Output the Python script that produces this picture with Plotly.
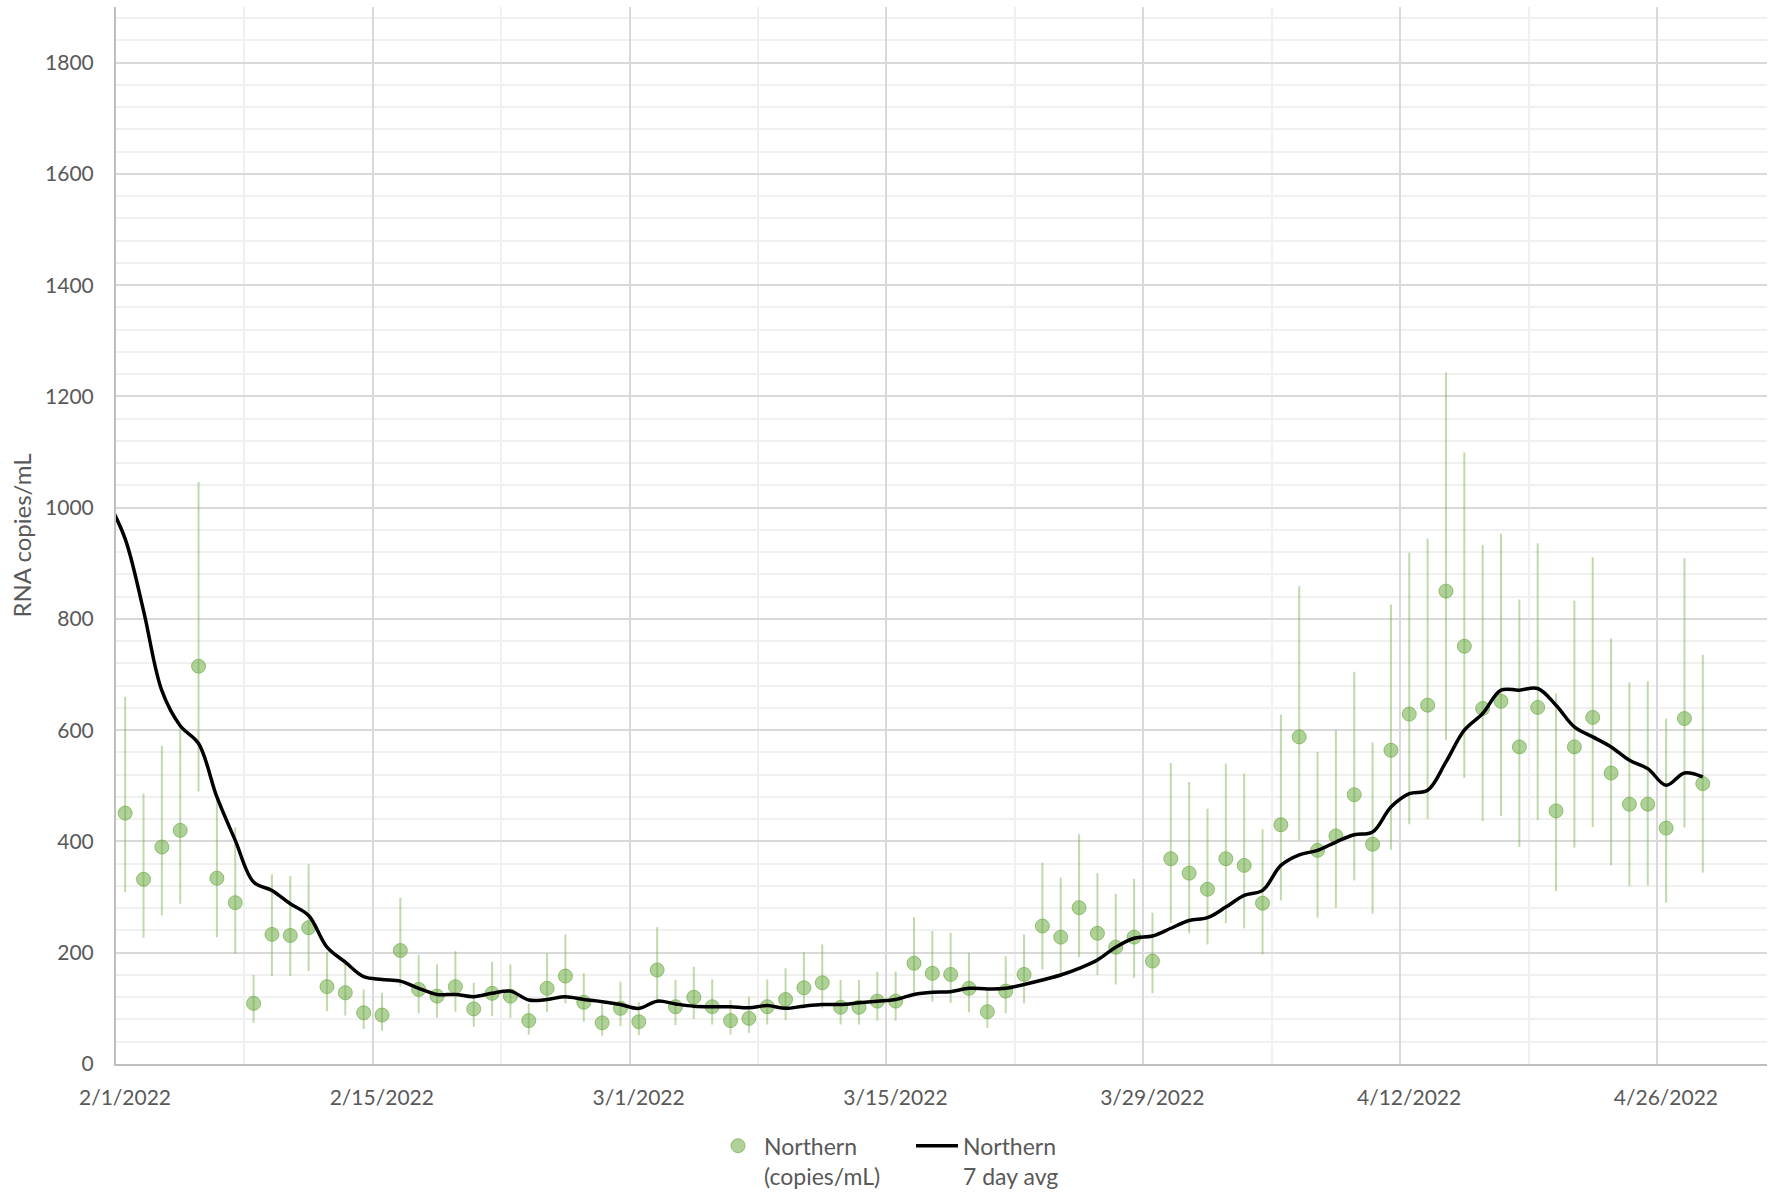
import pandas as pd
import plotly.graph_objects as go

# ---- data ----
first_sample = "2022-02-01 12:00"
values = [451, 332, 390, 420, 715, 334, 290, 109, 233, 231, 245, 139, 128, 92, 88,
          204, 134, 122, 139, 99, 127, 122, 78, 136, 158, 111, 74, 100, 76, 169,
          103, 120, 103, 78, 82, 103, 116, 137, 146, 102, 102, 113, 113, 181, 163,
          161, 136, 94, 131, 161, 248, 228, 281, 235, 210, 228, 185, 369, 343, 314,
          369, 357, 289, 430, 588, 384, 410, 484, 395, 564, 629, 645, 850, 751, 639,
          652, 570, 641, 455, 570, 623, 523, 467, 467, 424, 621, 504]
upper = [660, 486, 572, 601, 1046, 475, 425, 160, 341, 338, 359, 201, 181, 134, 128,
         299, 196, 179, 203, 146, 184, 179, 109, 199, 233, 163, 107, 148, 111, 246,
         151, 175, 152, 115, 121, 152, 172, 201, 215, 151, 151, 166, 166, 264, 239,
         236, 200, 134, 194, 233, 362, 335, 413, 343, 306, 333, 272, 541, 507, 459,
         540, 522, 422, 628, 859, 561, 600, 705, 578, 826, 919, 944, 1243, 1099, 933,
         953, 835, 936, 666, 833, 911, 765, 686, 688, 621, 909, 736]
lower = [309, 227, 267, 288, 490, 228, 198, 74, 158, 158, 167, 95, 87, 63, 60,
         139, 91, 83, 94, 67, 86, 83, 53, 93, 109, 76, 51, 68, 52, 116,
         70, 81, 71, 53, 56, 71, 79, 100, 100, 71, 71, 78, 78, 124, 112,
         110, 93, 65, 91, 109, 170, 163, 192, 160, 143, 155, 127, 253, 235, 215,
         253, 244, 197, 294, 402, 263, 281, 330, 270, 385, 431, 441, 582, 514, 437,
         446, 390, 438, 311, 389, 426, 357, 320, 321, 290, 425, 344]

first_avg = "2022-01-31 12:00"
avg7 = [1015, 944, 815, 671, 608, 576, 480, 402, 327, 312, 288, 267, 210, 183, 157,
        152, 149, 136, 125, 125, 121, 127, 131, 115, 116, 121, 116, 112, 107, 100,
        113, 108, 104, 103, 103, 101, 105, 100, 104, 107, 107, 110, 113, 116, 125,
        129, 130, 136, 135, 136, 143, 151, 160, 172, 187, 210, 226, 230, 244, 258,
        263, 282, 303, 312, 357, 376, 384, 399, 412, 417, 462, 486, 492, 543, 600,
        630, 672, 672, 675, 645, 606, 588, 570, 546, 531, 501, 523, 516]

tick_dates = ["2022-02-01", "2022-02-15", "2022-03-01", "2022-03-15",
              "2022-03-29", "2022-04-12", "2022-04-26"]
tick_labels = ["2/1/2022", "2/15/2022", "3/1/2022", "3/15/2022",
               "3/29/2022", "4/12/2022", "4/26/2022"]
x_range = ["2022-02-01", "2022-05-02"]
y_range = [0, 1900]

series_name = "Northern<br>(copies/mL)"
avg_name = "Northern<br>7 day avg"
y_title = "RNA copies/mL"

# ---- derived ----
dates = pd.date_range(first_sample, periods=len(values), freq="D")
avg_dates = pd.date_range(first_avg, periods=len(avg7), freq="D")
err_plus = [u - v for u, v in zip(upper, values)]
err_minus = [v - l for v, l in zip(values, lower)]

FONT = "Lato"
TXT = "#595959"

fig = go.Figure()
fig.add_trace(go.Scatter(
    x=dates, y=values, mode="markers", name=series_name,
    marker=dict(size=14, color="rgba(112,173,71,0.55)",
                line=dict(color="rgba(112,173,71,0.7)", width=1)),
    error_y=dict(type="data", symmetric=False, array=err_plus, arrayminus=err_minus,
                 color="rgba(112,173,71,0.45)", thickness=2, width=0),
))
fig.add_trace(go.Scatter(
    x=avg_dates, y=avg7, mode="lines", name=avg_name,
    line=dict(color="black", width=3.5, shape="spline", smoothing=1.0),
))

fig.update_layout(
    width=1769, height=1196,
    margin=dict(l=116, r=2, t=7, b=132, autoexpand=False),
    paper_bgcolor="white", plot_bgcolor="white",
    font=dict(family=FONT, size=21, color=TXT),
    showlegend=True,
    legend=dict(orientation="h", x=0.361, xanchor="left", y=-0.057, yanchor="top",
                valign="top", font=dict(family=FONT, size=23, color=TXT),
                bgcolor="rgba(0,0,0,0)", entrywidth=142, itemwidth=42),
)
fig.update_xaxes(
    type="date", range=x_range,
    tickmode="array", tickvals=tick_dates, ticktext=tick_labels,
    ticks="", ticklabelshift=9, ticklabelstandoff=14,
    showgrid=True, gridcolor="#D9D9D9", gridwidth=1.5,
    minor=dict(tickmode="linear", tick0="2022-02-01", dtick=7 * 86400000,
               showgrid=True, gridcolor="#F0F0F0", gridwidth=1.5),
    showline=True, linecolor="#BFBFBF", linewidth=2,
    zeroline=False, automargin=False, tickfont=dict(family=FONT, size=21, color=TXT),
)
fig.update_yaxes(
    range=y_range, tickmode="linear", tick0=0, dtick=200,
    ticks="", ticklabelstandoff=16,
    showgrid=True, gridcolor="#D9D9D9", gridwidth=1.5,
    minor=dict(tickmode="linear", tick0=0, dtick=40,
               showgrid=True, gridcolor="#F0F0F0", gridwidth=1.5),
    showline=True, linecolor="#BFBFBF", linewidth=2,
    zeroline=False, automargin=False,
    title=dict(text=y_title, standoff=7, font=dict(family=FONT, size=24, color=TXT)),
    tickfont=dict(family=FONT, size=21, color=TXT),
)

fig.write_html("out.html", config={"displayModeBar": False},
               post_script="document.body.style.margin='0';")
